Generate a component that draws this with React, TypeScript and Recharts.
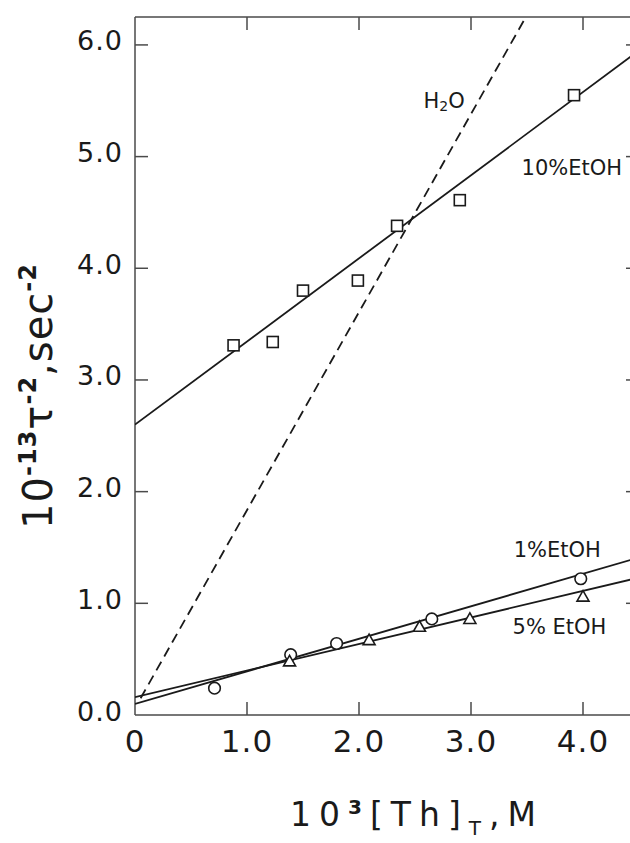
import React from 'react'
import { ScatterChart, Scatter, XAxis, YAxis, ReferenceDot } from 'recharts'

const INK = '#1a1a1a'
const AXIS = '#4a4a4a'
const TICK = 13
const FONT = '"DejaVu Sans", sans-serif'

// tick values / labels
const xTicks = [0, 1, 2, 3, 4]
const xTickLabels = ['0', '1.0', '2.0', '3.0', '4.0']
const yTicks = [0, 1, 2, 3, 4, 5, 6]
const yTickLabels = ['0.0', '1.0', '2.0', '3.0', '4.0', '5.0', '6.0']

// measured points
const etoh10 = [
  { x: 0.88, y: 3.31 }, { x: 1.23, y: 3.34 }, { x: 1.50, y: 3.80 }, { x: 1.99, y: 3.89 },
  { x: 2.34, y: 4.38 }, { x: 2.90, y: 4.61 }, { x: 3.92, y: 5.55 },
]
const etoh1 = [
  { x: 0.71, y: 0.24 }, { x: 1.39, y: 0.54 }, { x: 1.80, y: 0.64 }, { x: 2.65, y: 0.86 }, { x: 3.98, y: 1.22 },
]
const etoh5 = [
  { x: 1.38, y: 0.48 }, { x: 2.09, y: 0.67 }, { x: 2.54, y: 0.79 }, { x: 2.99, y: 0.86 }, { x: 4.00, y: 1.06 },
]

// fitted lines (end points)
const fit10 = [{ x: 0, y: 2.60 }, { x: 4.5, y: 5.95 }]
const fitH2O = [{ x: 0.05, y: 0.15 }, { x: 3.49, y: 6.25 }]
const fit1 = [{ x: 0, y: 0.10 }, { x: 4.5, y: 1.41 }]
const fit5 = [{ x: 0, y: 0.16 }, { x: 4.5, y: 1.23 }]

// curve labels
const notes = [
  { x: 2.76, y: 5.50, text: 'H', sub: '2', tail: 'O' },
  { x: 3.90, y: 4.90, text: '10%EtOH' },
  { x: 3.77, y: 1.48, text: '1%EtOH' },
  { x: 3.79, y: 0.79, text: '5% EtOH' },
]

const BottomTick = ({ x, y, payload }: any) => (
  <g>
    {payload.value > 0 && <line x1={x} x2={x} y1={y} y2={y - TICK} stroke={AXIS} strokeWidth={1.5} />}
    <text x={x} y={y + 26} textAnchor="middle" dominantBaseline="central" fontSize={31} fill={INK}
      fontFamily={FONT} letterSpacing={1}>
      {xTickLabels[xTicks.indexOf(payload.value)]}
    </text>
  </g>
)

const TopTick = ({ x, y, payload }: any) =>
  payload.value > 0 ? <line x1={x} x2={x} y1={y} y2={y + TICK} stroke={AXIS} strokeWidth={1.5} /> : <g />

const LeftTick = ({ x, y, payload }: any) => (
  <g>
    {payload.value > 0 && <line x1={x} x2={x + TICK} y1={y} y2={y} stroke={AXIS} strokeWidth={1.5} />}
    <text x={x - 12} y={y - 4} textAnchor="end" dominantBaseline="central" fontSize={27} fill={INK}
      fontFamily={FONT} letterSpacing={1}>
      {yTickLabels[yTicks.indexOf(payload.value)]}
    </text>
  </g>
)

const RightTick = ({ x, y, payload }: any) =>
  payload.value > 0 ? <line x1={x} x2={x - TICK} y1={y} y2={y} stroke={AXIS} strokeWidth={1.5} /> : <g />

const XTitle = ({ viewBox }: any) => (
  <text x={viewBox.x + 282} y={viewBox.y + 111} textAnchor="middle" fontSize={33} fill={INK}
    fontFamily={FONT} letterSpacing={8}>
    10<tspan dy={-12} fontSize={20} fontWeight="bold">3</tspan>
    <tspan dy={12}>[Th]</tspan>
    <tspan dy={9} fontSize={20}>T</tspan>
    <tspan dy={-9}>,M</tspan>
  </text>
)

const YTitle = ({ viewBox }: any) => {
  const cx = viewBox.x + 52
  const cy = viewBox.y + viewBox.height / 2 + 30
  return (
    <text x={cx} y={cy} transform={`rotate(-90 ${cx} ${cy})`} textAnchor="middle" fontSize={40}
      fill={INK} fontFamily={FONT} letterSpacing={1}>
      10<tspan dy={-16} fontSize={24} fontWeight="bold">-13</tspan>
      <tspan dy={16}>τ</tspan>
      <tspan dy={-16} fontSize={24} fontWeight="bold">-2</tspan>
      <tspan dy={16}>,sec</tspan>
      <tspan dy={-16} fontSize={24} fontWeight="bold">-2</tspan>
    </text>
  )
}

const Note = (n: any) => ({ viewBox }: any) => (
  <text x={viewBox.cx ?? viewBox.x} y={viewBox.cy ?? viewBox.y} textAnchor="middle" dominantBaseline="central"
    fontSize={21} fill={INK} fontFamily={FONT}>
    {n.text}
    {n.sub && <tspan dy={5} fontSize={14}>{n.sub}</tspan>}
    {n.tail && <tspan dy={-5}>{n.tail}</tspan>}
  </text>
)

const Square = ({ cx, cy }: any) => (
  <rect x={cx - 5.5} y={cy - 5.5} width={11} height={11} fill="#fff" stroke={INK} strokeWidth={1.6} />
)
const Circle = ({ cx, cy }: any) => <circle cx={cx} cy={cy} r={5.8} fill="#fff" stroke={INK} strokeWidth={1.6} />
const Triangle = ({ cx, cy }: any) => (
  <polygon points={`${cx},${cy - 6} ${cx - 6},${cy + 4.5} ${cx + 6},${cy + 4.5}`} fill="#fff" stroke={INK} strokeWidth={1.6} />
)
const NoDot = () => <g />

export default function App() {
  return (
    <div style={{ position: 'absolute', left: 0, top: 0, width: 630, height: 843, overflow: 'hidden', background: '#fff' }}>
      <ScatterChart width={660} height={843} margin={{ top: 0, right: 0, bottom: 0, left: 0 }}>
        <XAxis xAxisId="b" orientation="bottom" type="number" dataKey="x" domain={[0, 4.5]} ticks={xTicks}
          interval={0} height={128} tickSize={0} tickMargin={0} tickLine={false} allowDataOverflow
          axisLine={{ stroke: AXIS, strokeWidth: 1.5 }} tick={<BottomTick />} label={<XTitle />} />
        <XAxis xAxisId="t" orientation="top" type="number" dataKey="x" domain={[0, 4.5]} ticks={xTicks}
          interval={0} height={17} tickSize={0} tickMargin={0} tickLine={false} allowDataOverflow
          axisLine={{ stroke: AXIS, strokeWidth: 1.5 }} tick={<TopTick />} />
        <YAxis yAxisId="l" orientation="left" type="number" dataKey="y" domain={[0, 6.25]} ticks={yTicks}
          interval={0} width={135} tickSize={0} tickMargin={0} tickLine={false} allowDataOverflow
          axisLine={{ stroke: AXIS, strokeWidth: 1.5 }} tick={<LeftTick />} label={<YTitle />} />
        <YAxis yAxisId="r" orientation="right" type="number" dataKey="y" domain={[0, 6.25]} ticks={yTicks}
          interval={0} width={21} tickSize={0} tickMargin={0} tickLine={false} allowDataOverflow
          axisLine={{ stroke: AXIS, strokeWidth: 1.5 }} tick={<RightTick />} />

        <Scatter xAxisId="b" yAxisId="l" data={fitH2O} shape={<NoDot />} isAnimationActive={false}
          line={{ stroke: INK, strokeWidth: 1.8, strokeDasharray: '10 6' }} />
        <Scatter xAxisId="b" yAxisId="l" data={fit10} shape={<NoDot />} isAnimationActive={false}
          line={{ stroke: INK, strokeWidth: 1.8 }} />
        <Scatter xAxisId="b" yAxisId="l" data={fit1} shape={<NoDot />} isAnimationActive={false}
          line={{ stroke: INK, strokeWidth: 1.8 }} />
        <Scatter xAxisId="b" yAxisId="l" data={fit5} shape={<NoDot />} isAnimationActive={false}
          line={{ stroke: INK, strokeWidth: 1.8 }} />

        <Scatter xAxisId="b" yAxisId="l" data={etoh10} shape={<Square />} isAnimationActive={false} />
        <Scatter xAxisId="b" yAxisId="l" data={etoh1} shape={<Circle />} isAnimationActive={false} />
        <Scatter xAxisId="b" yAxisId="l" data={etoh5} shape={<Triangle />} isAnimationActive={false} />

        {notes.map(n => (
          <ReferenceDot key={n.text} xAxisId="b" yAxisId="l" x={n.x} y={n.y} r={0} stroke="none" fill="none"
            label={Note(n)} />
        ))}
      </ScatterChart>
    </div>
  )
}
